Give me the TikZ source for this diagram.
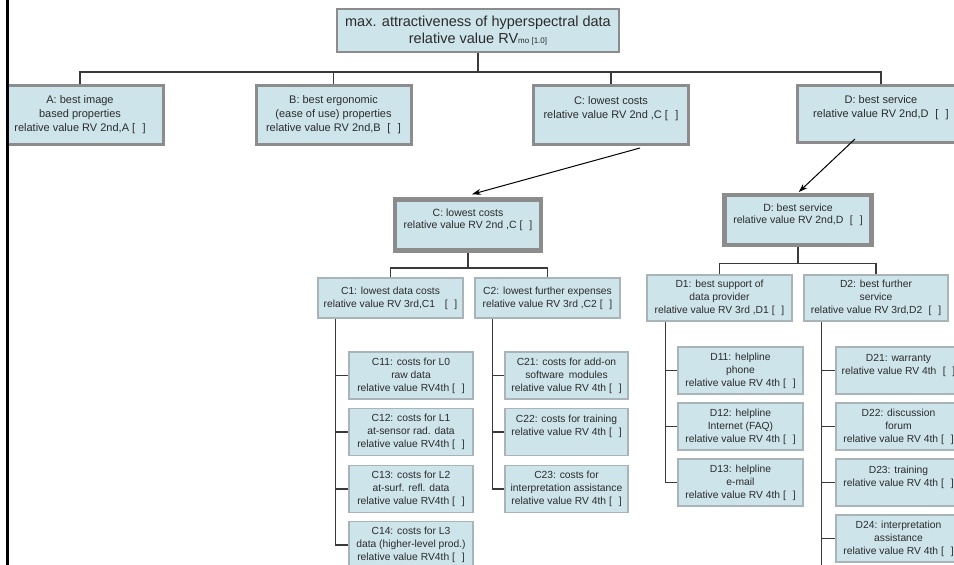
\documentclass[tikz,border=0pt]{standalone}
\usepackage{fontspec}
\setmainfont{Liberation Sans}
\usetikzlibrary{arrows.meta,calc}
\definecolor{boxfill}{HTML}{CDE4EA}
\definecolor{boxline}{HTML}{8C8C8C}
\definecolor{boxlinelight}{HTML}{A8B4B8}
\definecolor{txt}{HTML}{2B2B2B}
\definecolor{conn}{HTML}{3A3A3A}
\begin{document}
\begin{tikzpicture}[x=1pt,y=-1pt,
  box/.style={draw=boxline, fill=boxfill, text=txt, align=center, inner sep=0pt},
  lvlzero/.style={box, line width=2pt, font=\fontsize{14.5}{17}\selectfont},
  lvlone/.style={box, line width=3pt, font=\fontsize{11}{14}\selectfont},
  subbox/.style={box, line width=4.5pt, font=\fontsize{10.5}{12.5}\selectfont},
  lvlthree/.style={box, draw=boxlinelight, line width=1.5pt, font=\fontsize{10.3}{13}\selectfont},
  conn/.style={draw=conn, line width=1.5pt},
  arr/.style={draw=black, line width=1pt, -{Stealth[length=9pt,width=6pt]}}]
\useasboundingbox (0,0) rectangle (954,565);
\fill[white] (0,0) rectangle (954,565);
\begin{scope}
\clip (9,0) rectangle (954,565);
% top
\node[lvlzero, minimum width=282, minimum height=43] (top) at (478,30.5)
  {max. attractiveness of hyperspectral data\\relative value RV{\fontsize{8}{8}\selectfont mo [1.0]}};
% level one
\node[lvlone, minimum width=166, minimum height=59] (A) at (80,114.5)
  {A: best image\\based properties\\relative value RV 2nd,A [\,\,\,\,]};
\node[lvlone, minimum width=155, minimum height=59] (B) at (333.5,114.5)
  {B: best ergonomic\\(ease of use) properties\\relative value RV 2nd,B\,\, [\,\,\,\,]};
\node[lvlone, minimum width=155, minimum height=59] (C) at (611,114.5)
  {C: lowest costs\\relative value RV 2nd ,C [\,\,\,\,]\\\mbox{}};
\node[lvlone, minimum width=168, minimum height=57] (D) at (881,113.5)
  {D: best service\\relative value RV 2nd,D\,\, [\,\,\,\,]\\\mbox{}};
\draw[conn] (top.south) -- ++(0,19) coordinate (hub);
\draw[conn] (A.north) |- (hub) -| (D.north);
\draw[conn] (B.north) -- (B.north |- hub);
\draw[conn] (C.north) -- (C.north |- hub);
% C branch
\node[subbox, minimum width=146, minimum height=51] (Cs) at (468,225)
  {C: lowest costs\\relative value RV 2nd ,C [\,\,\,\,]\\\mbox{}};
\node[lvlthree, minimum width=145, minimum height=40] (C1) at (390.5,298)
  {C1: lowest data costs\\relative value RV 3rd,C1\,\,\,\, [\,\,\,\,]};
\node[lvlthree, minimum width=145, minimum height=40] (C2) at (547.5,298)
  {C2: lowest further expenses\\relative value RV 3rd ,C2 [\,\,\,\,]};
\draw[conn] (Cs.south) -- ++(0,15) coordinate (chub);
\draw[conn] (C1.north) |- (chub) -| (C2.north);
\node[lvlthree, minimum width=124, minimum height=47] (C11) at (411,375.5)
  {C11: costs for L0\\raw data\\relative value RV4th [\,\,\,\,]};
\node[lvlthree, minimum width=124, minimum height=47] (C12) at (411,432)
  {C12: costs for L1\\at-sensor rad. data\\relative value RV4th [\,\,\,\,]};
\node[lvlthree, minimum width=124, minimum height=47] (C13) at (411,489)
  {C13: costs for L2\\at-surf. refl. data\\relative value RV4th [\,\,\,\,]};
\node[lvlthree, minimum width=124, minimum height=47] (C14) at (411,545)
  {C14: costs for L3\\data (higher-level prod.)\\relative value RV4th [\,\,\,\,]};
\coordinate (c1sp) at ($(C1.south west)+(18,0)$);
\draw[conn] (c1sp) |- (C14.west);
\foreach \n in {C11,C12,C13} \draw[conn] (c1sp |- \n.west) -- (\n.west);
\node[lvlthree, minimum width=123, minimum height=47] (C21) at (566.5,375.5)
  {C21: costs for add-on\\software\, modules\\relative value RV 4th [\,\,\,\,]};
\node[lvlthree, minimum width=123, minimum height=47] (C22) at (566.5,432)
  {C22: costs for training\\relative value RV 4th [\,\,\,\,]\\\mbox{}};
\node[lvlthree, minimum width=123, minimum height=47] (C23) at (566.5,489)
  {C23: costs for\\interpretation assistance\\relative value RV 4th [\,\,\,\,]};
\coordinate (c2sp) at ($(C2.south west)+(18,0)$);
\draw[conn] (c2sp) |- (C23.west);
\foreach \n in {C21,C22} \draw[conn] (c2sp |- \n.west) -- (\n.west);
% D branch
\node[subbox, minimum width=147, minimum height=50] (Ds) at (798,220)
  {D: best service\\relative value RV 2nd,D\,\, [\,\,\,\,]\\\mbox{}};
\node[lvlthree, minimum width=145, minimum height=46] (D1) at (719.5,298)
  {D1: best support of\\data provider\\relative value RV 3rd ,D1 [\,\,\,\,]};
\node[lvlthree, minimum width=144, minimum height=46] (D2) at (876,298)
  {D2: best further\\service\\relative value RV 3rd,D2\,\, [\,\,\,\,]};
\draw[conn] (Ds.south) -- ++(0,16) coordinate (dhub);
\draw[conn] (D1.north) |- (dhub) -| (D2.north);
\node[lvlthree, minimum width=125, minimum height=47] (D11) at (740.5,370.5)
  {D11: helpline\\phone\\relative value RV 4th [\,\,\,\,]};
\node[lvlthree, minimum width=125, minimum height=47] (D12) at (740.5,426.5)
  {D12: helpline\\Internet (FAQ)\\relative value RV 4th [\,\,\,\,]};
\node[lvlthree, minimum width=125, minimum height=47] (D13) at (740.5,482.5)
  {D13: helpline\\e-mail\\relative value RV 4th [\,\,\,\,]};
\coordinate (d1sp) at ($(D1.south west)+(19,0)$);
\draw[conn] (d1sp) |- (D13.west);
\foreach \n in {D11,D12} \draw[conn] (d1sp |- \n.west) -- (\n.west);
\node[lvlthree, minimum width=125, minimum height=47] (D21) at (898.5,370.5)
  {D21: warranty\\relative value RV 4th\,\, [\,\,\,\,]\\\mbox{}};
\node[lvlthree, minimum width=125, minimum height=47] (D22) at (898.5,426.5)
  {D22: discussion\\forum\\relative value RV 4th [\,\,\,\,]};
\node[lvlthree, minimum width=125, minimum height=47] (D23) at (898.5,482.5)
  {D23: training\\relative value RV 4th [\,\,\,\,]\\\mbox{}};
\node[lvlthree, minimum width=125, minimum height=47] (D24) at (898.5,538.5)
  {D24: interpretation\\assistance\\relative value RV 4th [\,\,\,\,]};
\coordinate (d2sp) at ($(D2.south west)+(18,0)$);
\draw[conn] (d2sp) -- (d2sp |- 0,565);
\foreach \n in {D21,D22,D23,D24} \draw[conn] (d2sp |- \n.west) -- (\n.west);
% arrows
\coordinate (cfrom) at (640,148);
\coordinate (dfrom) at (855,139);
\draw[arr] (cfrom) -- ([xshift=4pt,yshift=3pt]Cs.north);
\draw[arr, shorten >=1pt] (dfrom) -- (Ds.north);
\end{scope}
\draw[black, line width=3pt] (7.5,0) -- (7.5,565);
\end{tikzpicture}
\end{document}
